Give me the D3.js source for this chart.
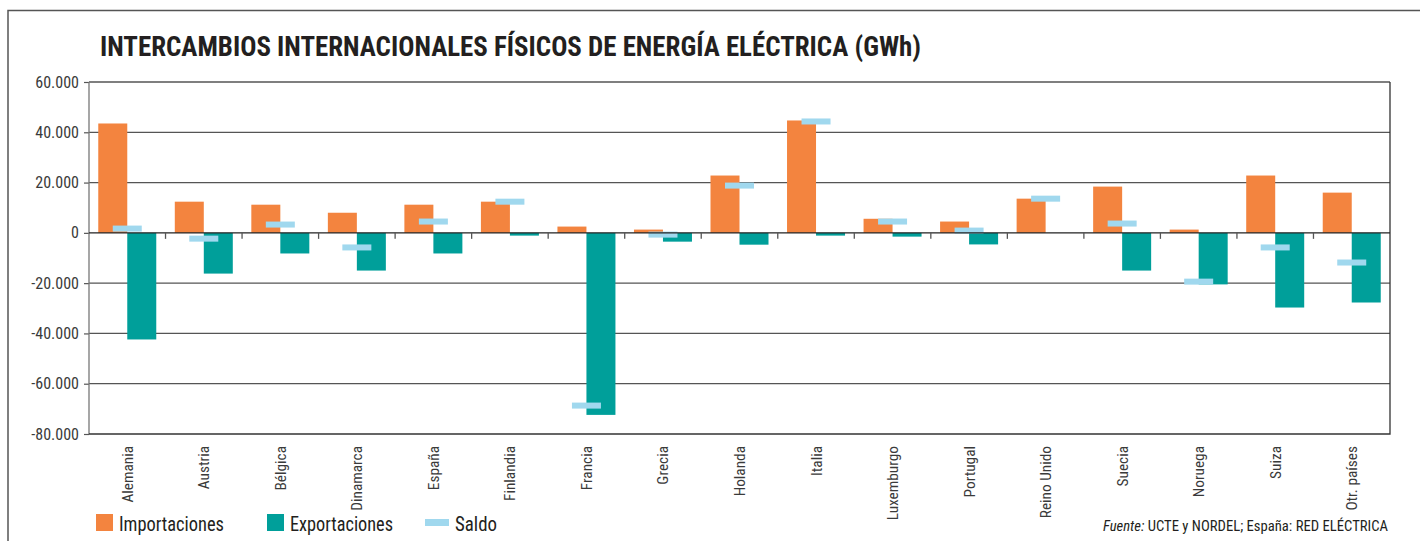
<!DOCTYPE html>
<html>
<head>
<meta charset="utf-8">
<script src="https://cdn.jsdelivr.net/npm/d3@7/dist/d3.min.js"></script>
<style>
  html, body { margin: 0; padding: 0; background: #fff; }
  svg { display: block; }
  text { font-family: "Liberation Sans Narrow", "Arial Narrow", "Roboto Condensed", "DejaVu Sans Condensed", sans-serif; }
</style>
</head>
<body>
<svg id="chart" width="1420" height="541"></svg>
<script>
// Physical cross-border electricity flows by country (GWh)
const categories = ["Alemania", "Austria", "Bélgica", "Dinamarca", "España", "Finlandia", "Francia", "Grecia",
  "Holanda", "Italia", "Luxemburgo", "Portugal", "Reino Unido", "Suecia", "Noruega", "Suiza", "Otr. países"];
const importaciones = [43500, 12400, 11200, 8000, 11200, 12400, 2500, 1300, 22800, 44700, 5600, 4500, 13600, 18400, 1300, 22800, 16000];
const exportaciones = [-42400, -16200, -8200, -15000, -8200, -1100, -72400, -3500, -4700, -1100, -1500, -4600, 0, -15000, -20500, -29700, -27700];
const saldo = [1700, -2300, 3300, -5800, 4500, 12400, -68700, -700, 18800, 44300, 4500, 900, 13600, 3700, -19400, -5800, -11800];
const yTicks = [60000, 40000, 20000, 0, -20000, -40000, -60000, -80000];
const seriesNames = ["Importaciones", "Exportaciones", "Saldo"];

const colors = { imp: "#F3843F", exp: "#009F9A", sal: "#A0D8EE" };

const svg = d3.select("#chart");
const plot = { left: 89, right: 1390, top: 82, bottom: 434 };

const x = d3.scaleBand().domain(categories).range([plot.left, plot.right]).padding(0);
const y = d3.scaleLinear().domain([-80000, 60000]).range([plot.bottom, plot.top]);
const bw = x.bandwidth();
const barW = 29;

const locale = d3.formatLocale({ decimal: ",", thousands: ".", grouping: [3], currency: ["", " €"], minus: "-" });
const fmt = locale.format(",d");

// outer frame
svg.append("path")
  .attr("d", "M8,541 L8,10.5 L1420,10.5")
  .attr("fill", "none").attr("stroke", "#555").attr("stroke-width", 1.5);

// title
svg.append("text")
  .attr("x", 100).attr("y", 56)
  .attr("font-size", 28).attr("font-weight", "bold").attr("fill", "#231f20")
  .attr("textLength", 821).attr("lengthAdjust", "spacingAndGlyphs")
  .text("INTERCAMBIOS INTERNACIONALES FÍSICOS DE ENERGÍA ELÉCTRICA (GWh)");

// horizontal gridlines
svg.append("g").selectAll("line").data(yTicks.filter(d => d !== 0 && d !== -80000)).join("line")
  .attr("x1", plot.left).attr("x2", plot.right)
  .attr("y1", d => y(d)).attr("y2", d => y(d))
  .attr("stroke", "#555").attr("stroke-width", 1.3);

// y axis ticks and labels
const yAxis = svg.append("g").attr("transform", `translate(${plot.left},0)`)
  .call(d3.axisLeft(y).tickValues(yTicks).tickFormat(fmt).tickSize(5).tickPadding(5));
yAxis.select(".domain").remove();
yAxis.selectAll(".tick line").attr("stroke", "#555").attr("stroke-width", 1.2);
yAxis.selectAll(".tick text").attr("font-size", 16).attr("fill", "#3a3a3a")
  .attr("font-family", null);

// plot frame: left axis, right and bottom borders
svg.append("line").attr("x1", plot.left).attr("x2", plot.left).attr("y1", plot.top).attr("y2", plot.bottom)
  .attr("stroke", "#777").attr("stroke-width", 1.3);
svg.append("path")
  .attr("d", `M${plot.left},${plot.bottom} L${plot.right},${plot.bottom} L${plot.right},${plot.top}`)
  .attr("fill", "none").attr("stroke", "#333").attr("stroke-width", 1.3);

// bars
const groups = svg.append("g").selectAll("g").data(categories).join("g");
groups.append("rect")
  .attr("x", (d) => x(d) + bw / 2 - barW)
  .attr("width", barW)
  .attr("y", (d, i) => y(importaciones[i]))
  .attr("height", (d, i) => y(0) - y(importaciones[i]))
  .attr("fill", colors.imp);
groups.append("rect")
  .attr("x", (d) => x(d) + bw / 2)
  .attr("width", barW)
  .attr("y", y(0))
  .attr("height", (d, i) => y(exportaciones[i]) - y(0))
  .attr("fill", colors.exp);

// zero line and category ticks
svg.append("line").attr("x1", plot.left).attr("x2", plot.right).attr("y1", y(0)).attr("y2", y(0))
  .attr("stroke", "#222").attr("stroke-width", 1.3);
svg.append("g").selectAll("line").data(categories.slice(1)).join("line")
  .attr("x1", d => x(d)).attr("x2", d => x(d))
  .attr("y1", y(0)).attr("y2", y(0) + 6)
  .attr("stroke", "#555").attr("stroke-width", 1.3);

// saldo markers
groups.append("rect")
  .attr("x", (d) => x(d) + bw / 2 - barW / 2)
  .attr("width", barW)
  .attr("y", (d, i) => y(saldo[i]) - 3)
  .attr("height", 6)
  .attr("fill", colors.sal);

// category labels
svg.append("g").selectAll("text").data(categories).join("text")
  .attr("transform", d => `translate(${x(d) + bw / 2 + 5.5},446) rotate(-90)`)
  .attr("text-anchor", "end")
  .attr("font-size", 15.3).attr("fill", "#3a3a3a")
  .text(d => d);

// legend
const legend = svg.append("g");
const legendX = [96, 267, 425];
const legendTextLen = [105, 103, 42];
legend.append("rect").attr("x", legendX[0]).attr("y", 514).attr("width", 17).attr("height", 17).attr("fill", colors.imp);
legend.append("rect").attr("x", legendX[1]).attr("y", 514).attr("width", 17).attr("height", 17).attr("fill", colors.exp);
legend.append("rect").attr("x", legendX[2]).attr("y", 519).attr("width", 24).attr("height", 7).attr("fill", colors.sal);
legend.selectAll("text").data(seriesNames).join("text")
  .attr("x", (d, i) => legendX[i] + (i === 2 ? 30 : 23))
  .attr("y", 531)
  .attr("font-size", 21).attr("fill", "#231f20")
  .attr("textLength", (d, i) => legendTextLen[i]).attr("lengthAdjust", "spacingAndGlyphs")
  .text(d => d);

// source note
const src = svg.append("text").attr("x", 1388).attr("y", 531).attr("text-anchor", "end")
  .attr("font-size", 15).attr("fill", "#231f20")
  .attr("textLength", 285).attr("lengthAdjust", "spacingAndGlyphs");
src.append("tspan").attr("font-style", "italic").text("Fuente:");
src.append("tspan").text(" UCTE y NORDEL; España: RED ELÉCTRICA");
</script>
</body>
</html>
